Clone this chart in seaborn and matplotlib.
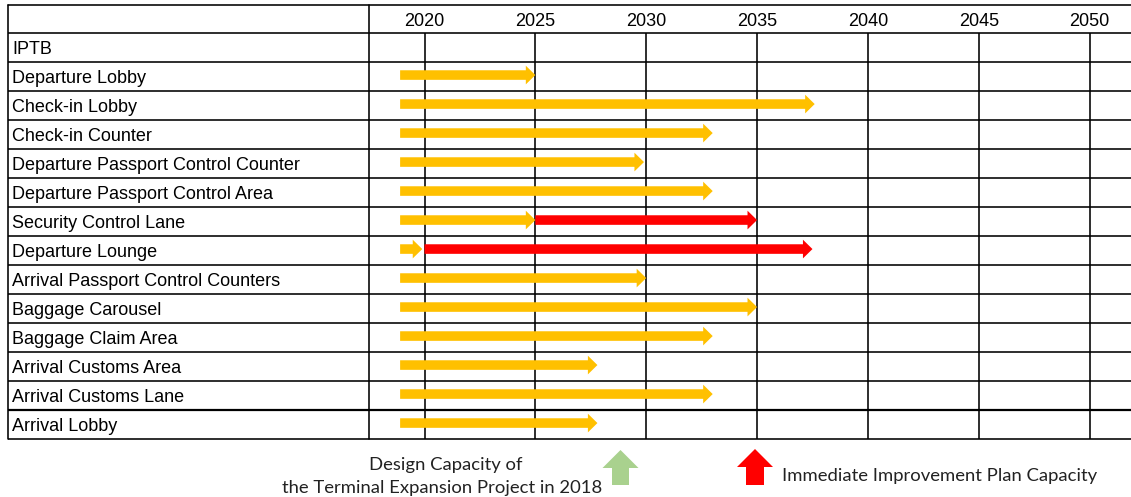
import numpy as np
import matplotlib
matplotlib.use("Agg")
import matplotlib.pyplot as plt
from matplotlib.patches import FancyArrow
import seaborn as sns

# ---------------- data ----------------
categories = [
    "IPTB",
    "Departure Lobby",
    "Check-in Lobby",
    "Check-in Counter",
    "Departure Passport Control Counter",
    "Departure Passport Control Area",
    "Security Control Lane",
    "Departure Lounge",
    "Arrival Passport Control Counters",
    "Baggage Carousel",
    "Baggage Claim Area",
    "Arrival Customs Area",
    "Arrival Customs Lane",
    "Arrival Lobby",
]
years = [2020, 2025, 2030, 2035, 2040, 2045, 2050]
start_year = [np.nan, 2018.9, 2018.9, 2018.9, 2018.9, 2018.9, 2018.9,
              2018.9, 2018.9, 2018.9, 2018.9, 2018.9, 2018.9, 2018.9]
design_end = [np.nan, 2025.0, 2037.6, 2033.0, 2029.9, 2033.0, 2025.0,
              2019.9, 2030.0, 2035.0, 2033.0, 2027.8, 2033.0, 2027.8]
improve_start = [np.nan] * 6 + [2025.0, 2020.0] + [np.nan] * 6
improve_end = [np.nan] * 6 + [2035.0, 2037.5] + [np.nan] * 6

legend_design = "Design Capacity of\nthe Terminal Expansion Project in 2018"
legend_improve = "Immediate Improvement Plan Capacity"

YELLOW = "#FFC000"
RED = "#FF0000"
GREEN = "#A9D18E"

# ---------------- style ----------------
sns.set_theme(style="white")
plt.rcParams["font.family"] = ["Liberation Sans", "DejaVu Sans"]

W, H = 1131, 497
fig = plt.figure(figsize=(W / 100, H / 100), dpi=100)

# table geometry (pixels)
tbl_left, col_div, tbl_right = 7.5, 369.0, 1131.0
hdr_top, hdr_bot, tbl_bot = 4.5, 33.0, 439.0
px_per_year = 22.17

# background overlay axes (pixel coords) for the legend
lax = fig.add_axes([0, 0, 1, 1], zorder=0)
lax.set_xlim(0, W)
lax.set_ylim(H, 0)
lax.axis("off")

ax = fig.add_axes([col_div / W, 1 - tbl_bot / H,
                   (tbl_right - col_div) / W, (tbl_bot - hdr_bot) / H], zorder=1)
ax.patch.set_alpha(0)
x0 = 2020 - (424.5 - col_div) / px_per_year
x1 = 2020 + (tbl_right - 424.5) / px_per_year
n = len(categories)
ax.set_xlim(x0, x1)
ax.set_ylim(n - 0.5, -0.5)
sns.despine(ax=ax, left=True, bottom=True, right=True, top=True)

# tick labels
ax.xaxis.tick_top()
ax.set_xticks(years)
ax.set_xticklabels([str(y) for y in years], fontsize=13, color="black")
ax.tick_params(axis="x", length=0, pad=2.5)
ax.set_yticks(range(n))
ax.set_yticklabels(categories, ha="left", fontsize=13, color="black")
ax.tick_params(axis="y", length=0, pad=(col_div - 12) * 0.72)

LW = 1.15
# vertical year grid
for y in years:
    ax.axvline(y, color="black", lw=LW, zorder=1)

# horizontal row lines (extend into label column)
xl = -(col_div - tbl_left) / (tbl_right - col_div)
ytr = ax.get_yaxis_transform()
for i in range(n + 1):
    yb = i - 0.5
    lw = 1.6 if i == n - 1 else LW
    ax.plot([xl, 1], [yb, yb], transform=ytr, color="black", lw=lw,
            clip_on=False, solid_capstyle="butt", zorder=1)
# header top line
y_top = 1 + (hdr_bot - hdr_top) / (tbl_bot - hdr_bot)
ax.plot([xl, 1], [y_top, y_top], transform=ax.transAxes, color="black",
        lw=LW, clip_on=False, zorder=1)
# left border & column divider
for xv in (xl, 0):
    ax.plot([xv, xv], [0, y_top], transform=ax.transAxes, color="black",
            lw=LW, clip_on=False, zorder=1)

# arrows
shaft_w, head_w, head_l = 0.33, 0.645, 0.43
y_off = -0.05
for i in range(n):
    s, e = start_year[i], design_end[i]
    if not np.isnan(s):
        ax.add_patch(FancyArrow(s, i + y_off, e - s, 0, width=shaft_w,
                                head_width=head_w, head_length=head_l,
                                length_includes_head=True, color=YELLOW,
                                lw=0, zorder=3))
    rs, re = improve_start[i], improve_end[i]
    if not np.isnan(rs):
        ax.add_patch(FancyArrow(rs, i + y_off, re - rs, 0, width=shaft_w,
                                head_width=head_w, head_length=head_l,
                                length_includes_head=True, color=RED,
                                lw=0, zorder=3))

# legend
lax.add_patch(FancyArrow(620.5, 485, 0, -35, width=17, head_width=36,
                         head_length=18, length_includes_head=True,
                         color=GREEN, lw=0))
lax.add_patch(FancyArrow(755, 485, 0, -36, width=18, head_width=36,
                         head_length=18, length_includes_head=True,
                         color=RED, lw=0))
l1, l2 = legend_design.split("\n")
LFS = 13.3
lax.text(446, 465, l1, ha="center", va="center", fontsize=LFS,
         family=["Lato", "DejaVu Sans"], color="#222222")
lax.text(442, 488, l2, ha="center", va="center", fontsize=LFS,
         family=["Lato", "DejaVu Sans"], color="#222222")
lax.text(782, 476, legend_improve, ha="left", va="center", fontsize=LFS,
         family=["Lato", "DejaVu Sans"], color="#222222")

fig.savefig("out.png", dpi=100)
